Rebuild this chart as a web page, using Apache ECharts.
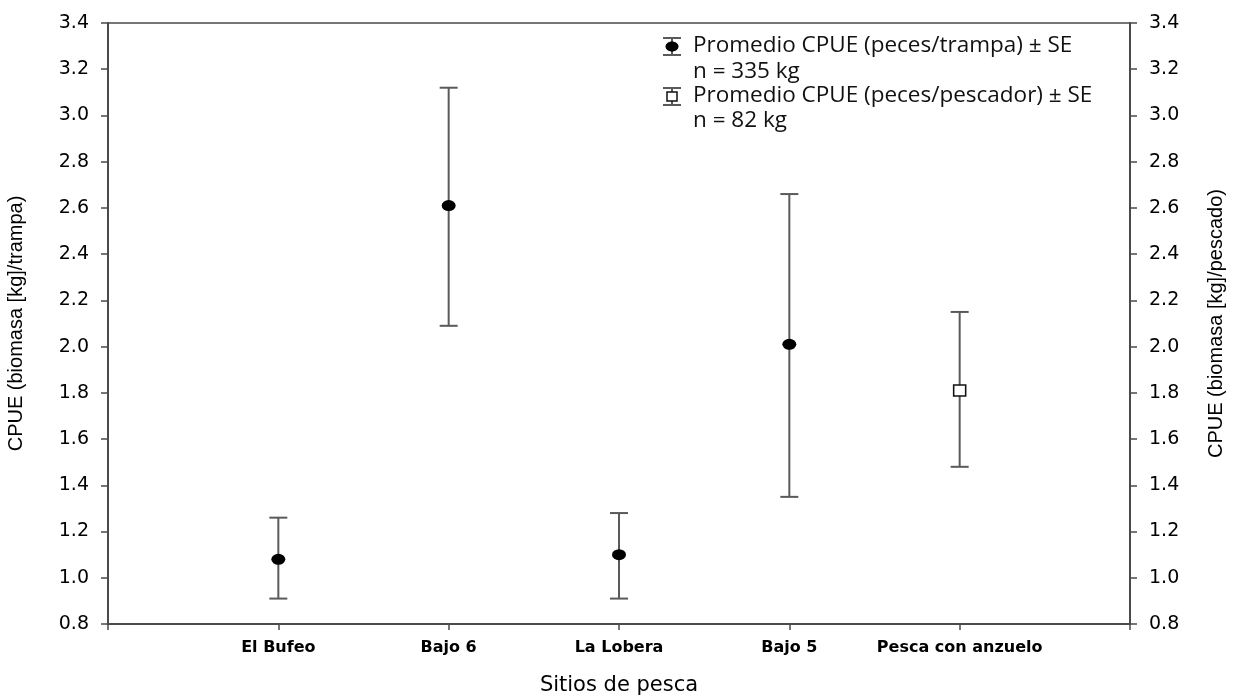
<!DOCTYPE html>
<html lang="es">
<head>
  <meta charset="UTF-8">
  <title>CPUE por sitio de pesca</title>
  <style>
    html, body { margin: 0; padding: 0; background: #fff; }
    #chart { width: 1233px; height: 696px; }
  </style>
</head>
<body>
<div id="chart"></div>
<script src="https://cdn.jsdelivr.net/npm/echarts@6/dist/echarts.min.js"></script>
<script>
  // sitios de pesca (posicion 1..5 en el eje x)
  const categories = ['El Bufeo', 'Bajo 6', 'La Lobera', 'Bajo 5', 'Pesca con anzuelo'];
  const yTicks = [0.8, 1.0, 1.2, 1.4, 1.6, 1.8, 2.0, 2.2, 2.4, 2.6, 2.8, 3.0, 3.2, 3.4];

  // CPUE por trampa (primeros cuatro sitios)
  const trampaMean = [1.08, 2.61, 1.10, 2.01];
  const trampaLow = [0.91, 2.09, 0.91, 1.35];
  const trampaHigh = [1.26, 3.12, 1.28, 2.66];

  // CPUE por pescador (pesca con anzuelo)
  const pescadorMean = [1.81];
  const pescadorLow = [1.48];
  const pescadorHigh = [2.15];

  const axisColor = '#4a4a4a';
  const barColor = '#5a5a5a';
  const labelFont = '"Liberation Sans", Arial, sans-serif';
  const wideFont = '"DejaVu Sans", sans-serif';

  const trampaBars = trampaMean.map((m, i) => [i + 1, trampaLow[i], trampaHigh[i]]);
  const trampaPts = trampaMean.map((m, i) => [i + 1, m]);
  const pescadorBars = pescadorMean.map((m, i) => [5 + i, pescadorLow[i], pescadorHigh[i]]);
  const pescadorPts = pescadorMean.map((m, i) => [5 + i, m]);

  function renderErrorBar(params, api) {
    let x = api.value(0);
    let lo = api.coord([x, api.value(1)]);
    let hi = api.coord([x, api.value(2)]);
    let cap = 9;
    let style = {stroke: barColor, lineWidth: 2};
    return {
      type: 'group',
      children: [
        {type: 'line', shape: {x1: lo[0], y1: lo[1], x2: hi[0], y2: hi[1]}, style: style},
        {type: 'line', shape: {x1: lo[0] - cap, y1: lo[1], x2: lo[0] + cap, y2: lo[1]}, style: style},
        {type: 'line', shape: {x1: hi[0] - cap, y1: hi[1], x2: hi[0] + cap, y2: hi[1]}, style: style}
      ]
    };
  }

  function yAxisOpt(pos, name, gap) {
    return {
      type: 'value', position: pos, min: 0.8, max: 3.4, interval: 0.2,
      name: name, nameLocation: 'middle', nameGap: gap, nameRotate: 90,
      nameTextStyle: {fontFamily: labelFont, fontSize: 20, color: '#000'},
      axisLine: {show: true, lineStyle: {color: axisColor, width: 2}},
      axisTick: {show: true, length: 7, inside: false, lineStyle: {color: axisColor, width: 1.5}},
      axisLabel: {fontFamily: wideFont, fontSize: 19, color: '#000', margin: 19,
        formatter: v => v.toFixed(1)},
      splitLine: {show: false}
    };
  }

  // leyenda dibujada a mano
  function legendGraphic() {
    let lx = 672, tx = 693;
    let s = {stroke: barColor, lineWidth: 2};
    let txt = {fontFamily: '"Open Sans", sans-serif', fontSize: 22.5, fill: '#111', textVerticalAlign: 'middle'};
    return [
      {type: 'line', shape: {x1: lx, y1: 38, x2: lx, y2: 55}, style: s},
      {type: 'line', shape: {x1: lx - 9, y1: 38, x2: lx + 9, y2: 38}, style: s},
      {type: 'line', shape: {x1: lx - 9, y1: 55, x2: lx + 9, y2: 55}, style: s},
      {type: 'ellipse', shape: {cx: lx, cy: 46.5, rx: 6.5, ry: 5}, style: {fill: '#000'}},
      {type: 'text', x: tx, y: 46, style: Object.assign({text: 'Promedio CPUE (peces/trampa) ± SE'}, txt)},
      {type: 'text', x: tx, y: 72, style: Object.assign({text: 'n = 335 kg'}, txt)},
      {type: 'line', shape: {x1: lx, y1: 88, x2: lx, y2: 105}, style: s},
      {type: 'line', shape: {x1: lx - 9, y1: 88, x2: lx + 9, y2: 88}, style: s},
      {type: 'line', shape: {x1: lx - 9, y1: 105, x2: lx + 9, y2: 105}, style: s},
      {type: 'rect', shape: {x: lx - 5, y: 92, width: 10, height: 9}, style: {fill: '#fff', stroke: '#111', lineWidth: 1.5}},
      {type: 'text', x: tx, y: 96, style: Object.assign({text: 'Promedio CPUE (peces/pescador) ± SE'}, txt)},
      {type: 'text', x: tx, y: 121, style: Object.assign({text: 'n = 82 kg'}, txt)}
    ];
  }

  const chart = echarts.init(document.getElementById('chart'));
  chart.setOption({
    animation: false,
    grid: {left: 108, right: 103, top: 23, bottom: 72, outerBoundsMode: 'none', containLabel: false,
      show: true, borderColor: axisColor, borderWidth: 1.5},
    xAxis: {
      type: 'value', min: 0, max: 6, interval: 1,
      name: 'Sitios de pesca', nameLocation: 'middle', nameGap: 51,
      nameTextStyle: {fontFamily: wideFont, fontSize: 21, color: '#000'},
      axisLine: {show: true, onZero: false, lineStyle: {color: axisColor, width: 2}},
      axisTick: {show: true, length: 6, lineStyle: {color: axisColor, width: 1.5}},
      axisLabel: {fontFamily: wideFont, fontSize: 16, fontWeight: 'bold', color: '#000', margin: 16,
        formatter: v => categories[v - 1] || ''},
      splitLine: {show: false}
    },
    yAxis: [
      yAxisOpt('left', 'CPUE (biomasa [kg]/trampa)', 82),
      yAxisOpt('right', 'CPUE (biomasa [kg]/pescado)', 76)
    ],
    graphic: legendGraphic(),
    series: [
      {type: 'custom', renderItem: renderErrorBar, data: trampaBars, z: 2, silent: true},
      {type: 'custom', renderItem: renderErrorBar, data: pescadorBars, z: 2, silent: true},
      {type: 'scatter', data: trampaPts, symbol: 'circle', symbolSize: [14, 11],
        itemStyle: {color: '#000', opacity: 1}, z: 5},
      {type: 'scatter', data: pescadorPts, symbol: 'rect', symbolSize: [12, 11],
        itemStyle: {color: '#fff', borderColor: '#111', borderWidth: 1.5, opacity: 1}, z: 5}
    ]
  });
</script>
</body>
</html>
